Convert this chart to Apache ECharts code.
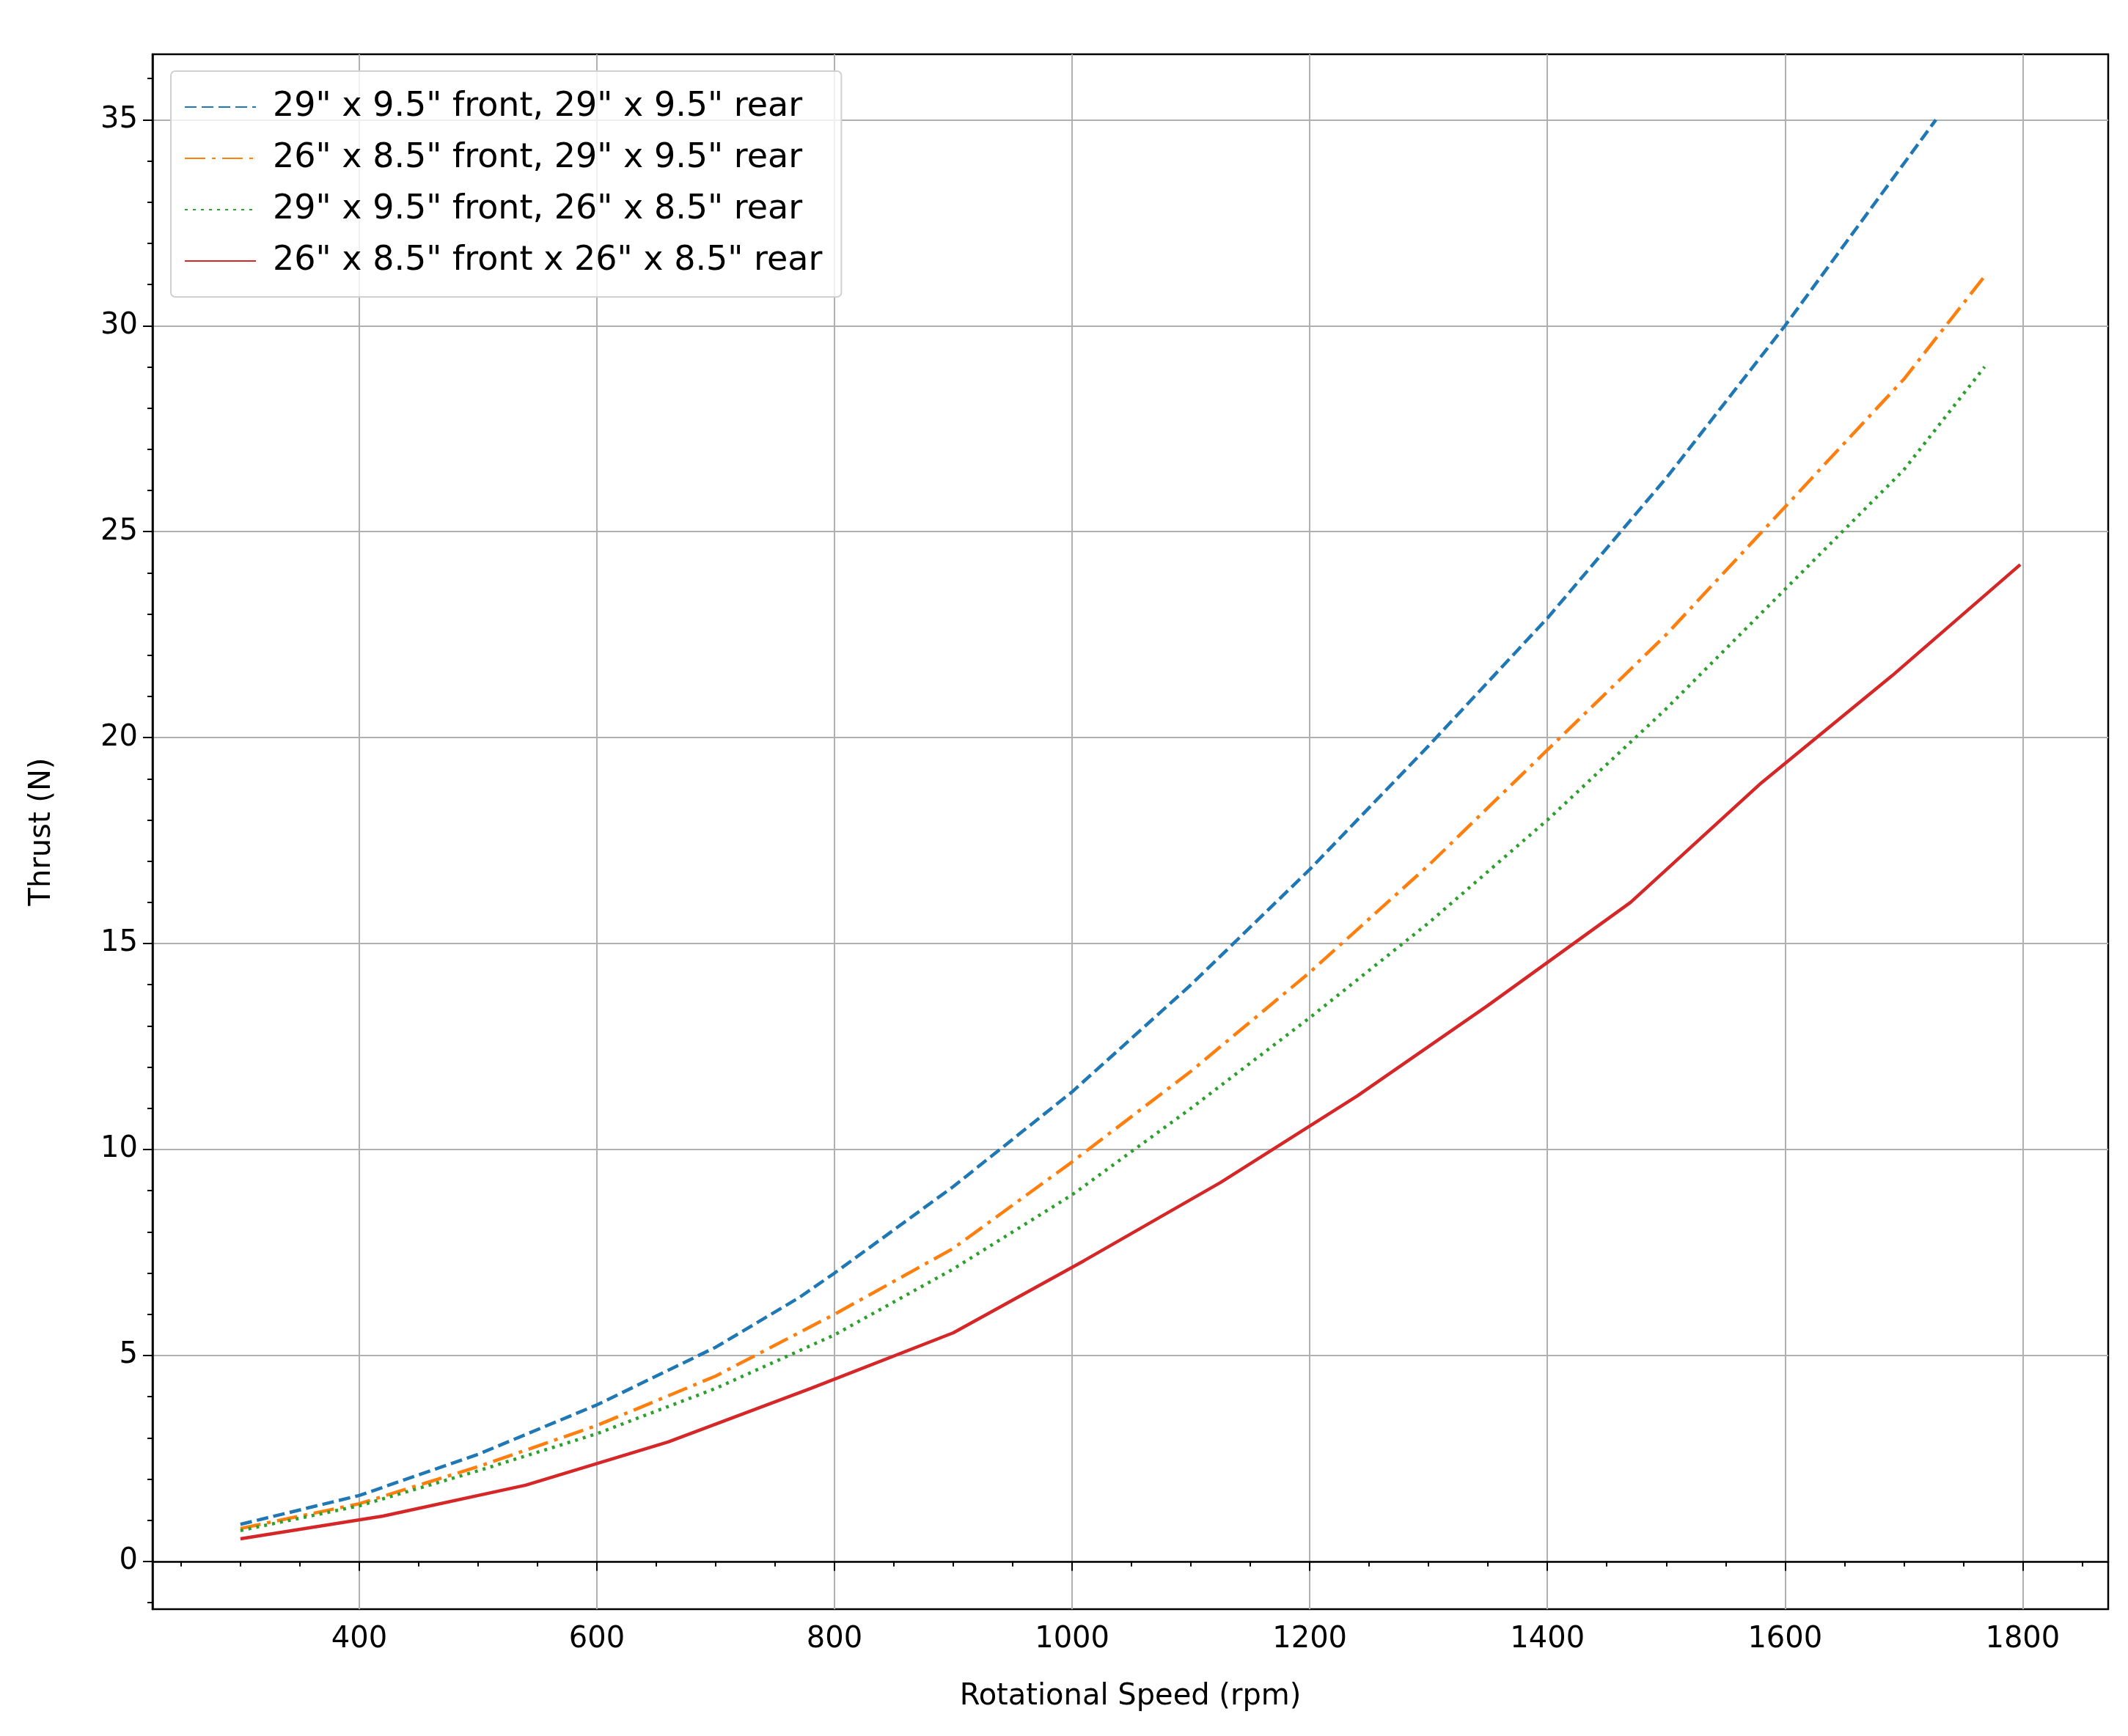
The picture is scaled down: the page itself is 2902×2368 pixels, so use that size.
<!DOCTYPE html>
<html><head><meta charset="utf-8">
<script src="https://cdn.jsdelivr.net/npm/echarts@6/dist/echarts.min.js"></script>
<style>html,body{margin:0;padding:0;background:#fff}#c{width:2902px;height:2368px}</style>
</head><body><div id="c"></div>
<script>
const names = ['29" x 9.5" front, 29" x 9.5" rear','26" x 8.5" front, 29" x 9.5" rear','29" x 9.5" front, 26" x 8.5" rear','26" x 8.5" front x 26" x 8.5" rear'];
const blue = [[300,0.9],[400,1.6],[500,2.6],[600,3.8],[700,5.2],[770,6.4],[800,7.0],[900,9.1],[1000,11.4],[1100,14.0],[1200,16.8],[1300,19.8],[1400,22.9],[1500,26.3],[1600,30.0],[1727,35.0]];
const orange = [[300,0.8],[400,1.4],[500,2.3],[600,3.3],[700,4.5],[800,6.0],[900,7.6],[1000,9.7],[1100,11.9],[1200,14.3],[1300,16.9],[1400,19.7],[1500,22.5],[1600,25.6],[1700,28.7],[1768,31.2]];
const green = [[300,0.75],[400,1.35],[500,2.2],[600,3.1],[700,4.2],[800,5.5],[900,7.1],[1000,8.9],[1100,11.0],[1200,13.2],[1300,15.5],[1400,18.0],[1500,20.7],[1600,23.6],[1700,26.5],[1768,29.0]];
const red = [[300,0.55],[420,1.1],[540,1.85],[660,2.9],[780,4.2],[900,5.55],[1010,7.3],[1125,9.2],[1240,11.3],[1350,13.5],[1470,16.0],[1580,18.9],[1690,21.5],[1798,24.2]];
const xTicks = [400,600,800,1000,1200,1400,1600,1800];
const xMinor = [250,300,350,450,500,550,650,700,750,850,900,950,1050,1100,1150,1250,1300,1350,1450,1500,1550,1650,1700,1750,1850];
const yTicks = [0,5,10,15,20,25,30,35];
const yMinor = [-1,1,2,3,4,6,7,8,9,11,12,13,14,16,17,18,19,21,22,23,24,26,27,28,29,31,32,33,34,36];
const XMIN=226, XMAX=1872, YMIN=-1.16, YMAX=36.59;
const F='DejaVu Sans';
const chart = echarts.init(document.getElementById('c'));
const mkX = (vals, major) => ({
  type:'value', min:XMIN, max:XMAX, position:'bottom',
  name: major ? 'Rotational Speed (rpm)' : '', nameLocation:'middle', nameGap:100,
  nameTextStyle:{fontFamily:F,fontSize:40,color:'#000'},
  axisLine:{show:major,lineStyle:{color:'#000',width:2.5}},
  axisTick:{show:true,customValues:vals,length:major?13:7,lineStyle:{color:'#000',width:2}},
  axisLabel:{show:major,customValues:vals,fontFamily:F,fontSize:40,color:'#000',margin:22,formatter:v=>String(v)},
  splitLine:{show:major,lineStyle:{color:'#b0b0b0',width:2}}
});
const mkY = (vals, major) => ({
  type:'value', min:YMIN, max:YMAX, position:'left',
  name: major ? 'Thrust (N)' : '', nameLocation:'middle', nameGap:130,
  nameTextStyle:{fontFamily:F,fontSize:40,color:'#000'},
  axisLine:{show:major,lineStyle:{color:'#000',width:2.5}},
  axisTick:{show:true,customValues:vals,length:major?13:7,lineStyle:{color:'#000',width:2}},
  axisLabel:{show:major,customValues:vals,fontFamily:F,fontSize:40,color:'#000',margin:20,formatter:v=>String(v)},
  splitLine:{show:major,lineStyle:{color:'#b0b0b0',width:2}}
});
const colors=['#1f77b4','#ff7f0e','#2ca02c','#d62728'];
const types=[[16,7],[28,9,5,9],[4,7],'solid'];
const datas=[blue,orange,green,red];
chart.setOption({
  animation:false,
  grid:{left:208,right:27,top:74,bottom:173,show:true,borderColor:'#000',borderWidth:2.5},
  legend:{left:233,top:97,orient:'vertical',itemWidth:97,itemHeight:10,itemGap:24,
    padding:[26,26,26,18],borderColor:'#d0d0d0',borderWidth:2,borderRadius:6,backgroundColor:'rgba(255,255,255,0.8)',
    itemStyle:{color:'transparent',borderWidth:0},
    textStyle:{fontFamily:F,fontSize:46,color:'#000',padding:[0,0,0,18]},data:names},
  xAxis:[mkX(xTicks,true),mkX(xMinor,false)],
  yAxis:[mkY(yTicks,true),mkY(yMinor,false)],
  series:datas.map((d,i)=>({name:names[i],type:'line',data:d,symbol:'none',xAxisIndex:0,yAxisIndex:0,
    lineStyle:{color:colors[i],width:4.5,type:types[i]},itemStyle:{color:colors[i]}}))
});
</script></body></html>
